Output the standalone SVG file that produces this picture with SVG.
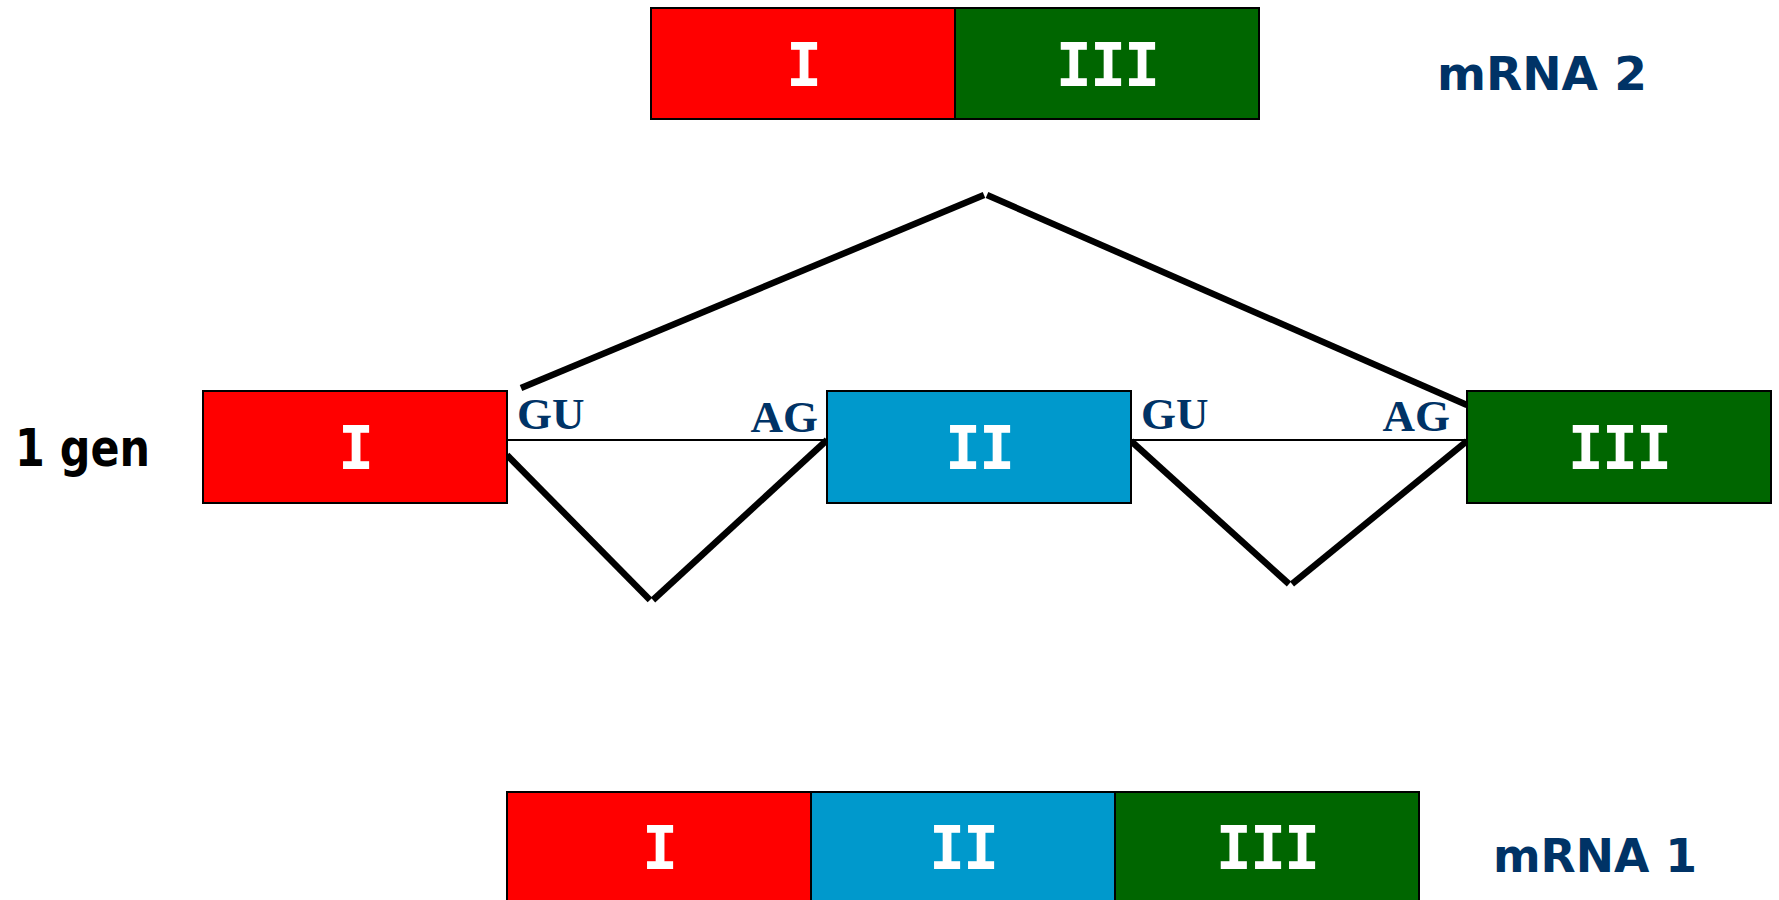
<svg xmlns="http://www.w3.org/2000/svg" width="1779" height="900" viewBox="0 0 1779 900">
<style>
.box{stroke:#000;stroke-width:2}
.red{fill:#FF0000}.blue{fill:#0099CC}.green{fill:#006600}
.num{font-family:"DejaVu Sans Mono","Liberation Mono",monospace;font-weight:bold;font-size:60px;fill:#fff;text-anchor:middle;letter-spacing:-2px}
.lbl{font-family:"Comic Sans MS","DejaVu Sans",sans-serif;font-weight:bold;fill:#003366}
.site{font-family:"Liberation Serif","Times New Roman",serif;font-weight:bold;font-size:45px;fill:#003366}
.thin{stroke:#000;stroke-width:2;fill:none}
.thick{stroke:#000;stroke-width:6.5;fill:none}
</style>
<rect width="1779" height="900" fill="#fff"/>
<g id="connectors">
<line class="thin" x1="507" y1="440" x2="827" y2="440"/>
<line class="thin" x1="1131" y1="440" x2="1467" y2="440"/>
<line class="thick" x1="507" y1="455" x2="650" y2="600"/>
<line class="thick" x1="653" y1="600" x2="827" y2="440"/>
<line class="thick" x1="1131" y1="441" x2="1289" y2="584"/>
<line class="thick" x1="1292" y1="584" x2="1467" y2="441"/>
<line class="thick" x1="521" y1="388" x2="984" y2="195"/>
<line class="thick" x1="987" y1="195" x2="1467" y2="405"/>
</g>
<g id="mrna2">
<rect class="box red" x="651" y="8" width="304" height="111"/>
<rect class="box green" x="955" y="8" width="304" height="111"/>
<text class="num" x="803" y="86">I</text>
<text class="num" x="1107" y="86">III</text>
</g>
<g id="mrna2-label"><text class="lbl" x="1437" y="90" font-size="46" textLength="210" lengthAdjust="spacingAndGlyphs">mRNA 2</text></g>
<g id="gene-label"><text x="15" y="466" font-family="'Comic Sans MS','DejaVu Sans',sans-serif" font-weight="bold" font-size="52" fill="#000" textLength="135" lengthAdjust="spacingAndGlyphs">1 gen</text></g>
<g id="exon1">
<rect class="box red" x="203" y="391" width="304" height="112"/>
<text class="num" x="355" y="469">I</text>
</g>
<g id="exon2">
<rect class="box blue" x="827" y="391" width="304" height="112"/>
<text class="num" x="979" y="469">II</text>
</g>
<g id="exon3">
<rect class="box green" x="1467" y="391" width="304" height="112"/>
<text class="num" x="1619" y="469">III</text>
</g>
<g id="sites">
<text class="site" x="517" y="429">GU</text>
<text class="site" x="818" y="432" text-anchor="end">AG</text>
<text class="site" x="1141" y="429">GU</text>
<text class="site" x="1450" y="431" text-anchor="end">AG</text>
</g>
<g id="mrna1">
<rect class="box red" x="507" y="792" width="304" height="112"/>
<rect class="box blue" x="811" y="792" width="304" height="112"/>
<rect class="box green" x="1115" y="792" width="304" height="112"/>
<text class="num" x="659" y="869">I</text>
<text class="num" x="963" y="869">II</text>
<text class="num" x="1267" y="869">III</text>
</g>
<g id="mrna1-label"><text class="lbl" x="1493" y="872" font-size="46" textLength="204" lengthAdjust="spacingAndGlyphs">mRNA 1</text></g>
</svg>
